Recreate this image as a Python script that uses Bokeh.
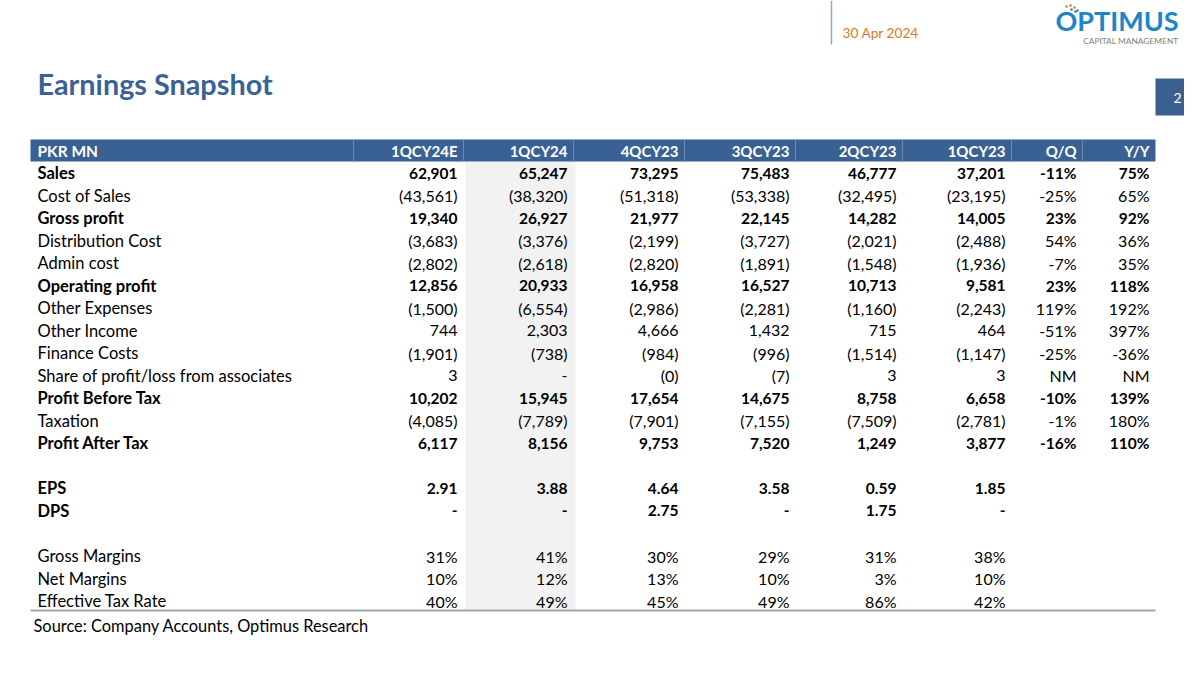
from bokeh.plotting import figure
from bokeh.models import ColumnDataSource, Range1d
from bokeh.core.properties import value
from bokeh.embed import file_html
from bokeh.resources import INLINE

# ---------------- data ----------------
title = "Earnings Snapshot"
report_date = "30 Apr 2024"
page_no = "2"
source_note = "Source: Company Accounts, Optimus Research"
unit_label = "PKR MN"

columns = ["1QCY24E", "1QCY24", "4QCY23", "3QCY23", "2QCY23", "1QCY23", "Q/Q", "Y/Y"]

row_labels = [
    "Sales", "Cost of Sales", "Gross profit", "Distribution Cost", "Admin cost",
    "Operating profit", "Other Expenses", "Other Income", "Finance Costs",
    "Share of profit/loss from associates", "Profit Before Tax", "Taxation",
    "Profit After Tax", "", "EPS", "DPS", "", "Gross Margins", "Net Margins",
    "Effective Tax Rate",
]
bold_rows = ["Sales", "Gross profit", "Operating profit", "Profit Before Tax",
             "Profit After Tax", "EPS", "DPS"]

col_1QCY24E = ["62,901", "(43,561)", "19,340", "(3,683)", "(2,802)", "12,856", "(1,500)", "744",
               "(1,901)", "3", "10,202", "(4,085)", "6,117", "", "2.91", "-", "", "31%", "10%", "40%"]
col_1QCY24 = ["65,247", "(38,320)", "26,927", "(3,376)", "(2,618)", "20,933", "(6,554)", "2,303",
              "(738)", "-", "15,945", "(7,789)", "8,156", "", "3.88", "-", "", "41%", "12%", "49%"]
col_4QCY23 = ["73,295", "(51,318)", "21,977", "(2,199)", "(2,820)", "16,958", "(2,986)", "4,666",
              "(984)", "(0)", "17,654", "(7,901)", "9,753", "", "4.64", "2.75", "", "30%", "13%", "45%"]
col_3QCY23 = ["75,483", "(53,338)", "22,145", "(3,727)", "(1,891)", "16,527", "(2,281)", "1,432",
              "(996)", "(7)", "14,675", "(7,155)", "7,520", "", "3.58", "-", "", "29%", "10%", "49%"]
col_2QCY23 = ["46,777", "(32,495)", "14,282", "(2,021)", "(1,548)", "10,713", "(1,160)", "715",
              "(1,514)", "3", "8,758", "(7,509)", "1,249", "", "0.59", "1.75", "", "31%", "3%", "86%"]
col_1QCY23 = ["37,201", "(23,195)", "14,005", "(2,488)", "(1,936)", "9,581", "(2,243)", "464",
              "(1,147)", "3", "6,658", "(2,781)", "3,877", "", "1.85", "-", "", "38%", "10%", "42%"]
col_QQ = ["-11%", "-25%", "23%", "54%", "-7%", "23%", "119%", "-51%", "-25%", "NM", "-10%",
          "-1%", "-16%", "", "", "", "", "", "", ""]
col_YY = ["75%", "65%", "92%", "36%", "35%", "118%", "192%", "397%", "-36%", "NM", "139%",
          "180%", "110%", "", "", "", "", "", "", ""]

col_values = [col_1QCY24E, col_1QCY24, col_4QCY23, col_3QCY23, col_2QCY23, col_1QCY23, col_QQ, col_YY]

# ---------------- layout / style ----------------
FONT = "Lato"
BLUE = "#3B6295"
HEADER_BLUE = "#3A6193"
ORANGE = "#D37A2B"
SHADE = "#F2F2F2"

W, H = 1184, 659
p = figure(width=W, height=H, x_range=Range1d(0, W), y_range=Range1d(H, 0),
           output_backend="svg", toolbar_location=None, min_border=0)
p.axis.visible = False
p.grid.visible = False
p.outline_line_color = None
p.background_fill_color = "white"

table_left, table_right = 30, 1155
cell_edges = [353, 463, 573, 684, 795, 902, 1011, 1082, 1155]
header_top, header_bot = 139, 161
row0_y = 172.5
row_h = 22.53
line_y = 610

# shaded column
p.quad(left=[cell_edges[1] + 2], right=[cell_edges[2] + 2], top=[header_bot], bottom=[line_y - 1],
       fill_color=SHADE, line_color=None)

# header bar
p.quad(left=[table_left], right=[table_right], top=[header_top], bottom=[header_bot],
       fill_color=HEADER_BLUE, line_color=None)
p.segment(x0=cell_edges[:-1], x1=cell_edges[:-1], y0=[header_top] * 8, y1=[header_bot] * 8,
          line_color="#6A8AB3", line_width=1)

hy = (header_top + header_bot) / 2
p.text(x=[37], y=[hy], text=[unit_label], text_font=value(FONT), text_font_size="15.5px",
       text_font_style="bold", text_color="white", text_baseline="middle", text_align="left")
p.text(x=[e - 6 for e in cell_edges[1:]], y=[hy] * len(columns), text=columns,
       text_font=value(FONT), text_font_size="15px", text_font_style="bold",
       text_color="white", text_baseline="middle", text_align="right")

# row labels
ys = [row0_y + i * row_h for i in range(len(row_labels))]
styles = ["bold" if r in bold_rows else "normal" for r in row_labels]
lab_src = ColumnDataSource(dict(x=[37] * len(row_labels), y=ys, text=row_labels, st=styles))
p.text(x="x", y="y", text="text", source=lab_src, text_font=value(FONT), text_font_size="16.5px",
       text_font_style="st", text_color="black", text_baseline="middle", text_align="left")

# values
xs, yy, tt, ss, fs = [], [], [], [], []
for ci, vals in enumerate(col_values):
    for ri, v in enumerate(vals):
        if v == "":
            continue
        xs.append(cell_edges[ci + 1] - 6)
        yy.append(ys[ri])
        tt.append(v)
        ss.append(styles[ri])
        fs.append("15.5px" if styles[ri] == "bold" else "16px")
val_src = ColumnDataSource(dict(x=xs, y=yy, text=tt, st=ss, fs=fs))
p.text(x="x", y="y", text="text", source=val_src, text_font=value(FONT), text_font_size="fs",
       text_font_style="st", text_color="black", text_baseline="middle", text_align="right")

# bottom rule
p.segment(x0=[table_left], x1=[table_right], y0=[line_y], y1=[line_y], line_color="#A6A6A6",
          line_width=2)

# source
p.text(x=[33], y=[625], text=[source_note], text_font=value(FONT), text_font_size="16.4px",
       text_color="black", text_baseline="middle", text_align="left")

# title
p.text(x=[37], y=[83], text=[title], text_font=value(FONT), text_font_size="28.8px",
       text_font_style="bold", text_color=BLUE, text_baseline="middle", text_align="left")

# date + divider
p.segment(x0=[831], x1=[831], y0=[0], y1=[44], line_color="#8FA8C6", line_width=1.5)
p.text(x=[842], y=[32], text=[report_date], text_font=value(FONT), text_font_size="13.7px",
       text_color=ORANGE, text_baseline="middle", text_align="left")

# logo
p.text(x=[1055], y=[20], text=["OPTIMUS"], text_font=value(FONT), text_font_size="27px",
       text_font_style="bold", text_color="#1E86C6", text_baseline="middle", text_align="left")
p.text(x=[1178], y=[40], text=["CAPITAL MANAGEMENT"], text_font=value(FONT), text_font_size="8.4px",
       text_color="#7F7F7F", text_baseline="middle", text_align="right")
p.scatter(x=[1066, 1070, 1074, 1077, 1071, 1075], y=[6, 5, 7, 10, 9, 11], size=2.5,
          color=["#E8772E", "#E8772E", "#E8772E", "#1E86C6", "#1E86C6", "#1E86C6"], line_color=None)

# page number box
p.quad(left=[1155], right=[1200], top=[78], bottom=[115], fill_color="#3B5F8F", line_color=None)
p.text(x=[1177], y=[97], text=[page_no], text_font=value(FONT), text_font_size="14px",
       text_color="white", text_baseline="middle", text_align="center")

open("out.html", "w").write(file_html(p, INLINE))
